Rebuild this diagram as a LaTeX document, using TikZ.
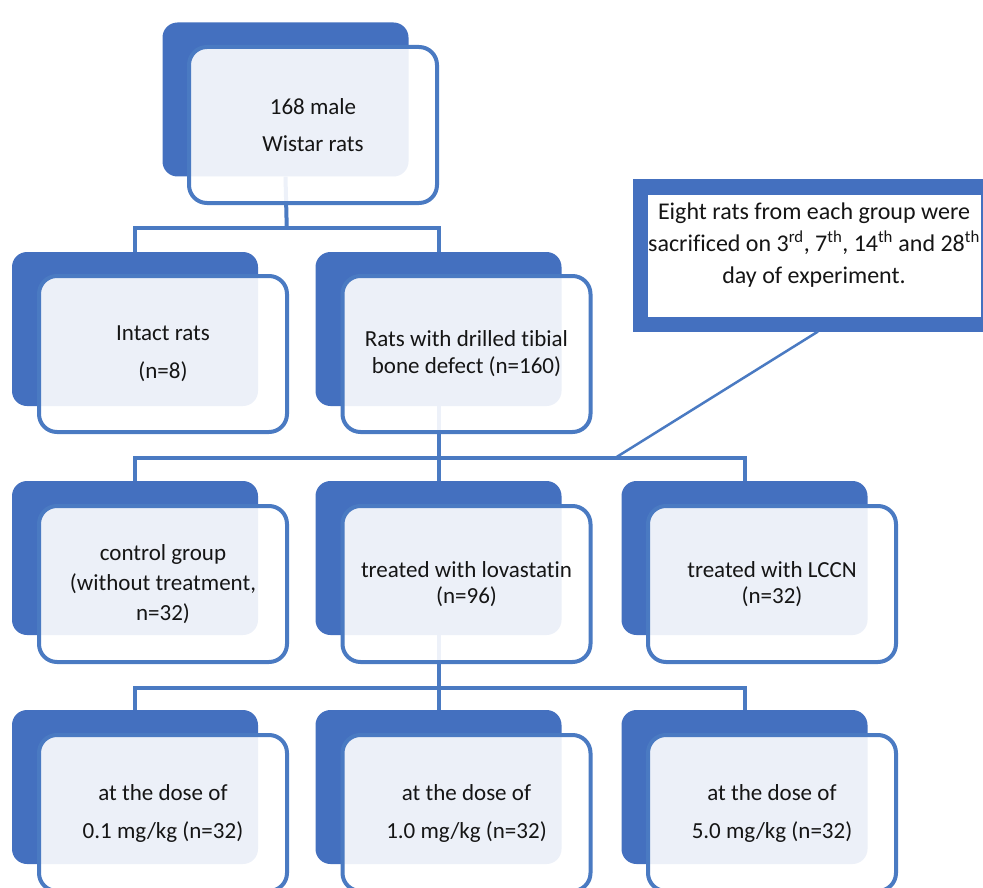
\documentclass[tikz,border=0pt]{standalone}
\usepackage{fontspec}
\setmainfont[Ligatures={NoCommon,NoRare,NoContextual}]{Carlito}
\usetikzlibrary{calc}
\definecolor{backblue}{HTML}{4470BF}
\definecolor{lineblue}{HTML}{4A7AC2}
\definecolor{txt}{HTML}{151515}
\begin{document}
\begin{tikzpicture}[x=1pt,y=-1pt,
  backbox/.style={rectangle, rounded corners=15pt, fill=backblue, minimum width=246pt, minimum height=154pt, inner sep=0pt},
  frontbox/.style={rectangle, rounded corners=18pt, draw=lineblue, line width=4pt, fill=white, fill opacity=0.9, text opacity=1, minimum width=248pt, minimum height=156pt, align=center, text=txt, inner sep=2pt, font=\fontsize{23}{38}\selectfont},
  tight/.style={font=\fontsize{23}{27}\selectfont},
  conn/.style={draw=lineblue, line width=4pt},
]
\useasboundingbox (0,0) rectangle (983,888);
\clip (0,0) rectangle (983,888);
% back boxes
\node[backbox] (b0) at (285.5,99.5) {};
\node[backbox] (b11) at (135,329) {};
\node[backbox] (b12) at (438.5,329) {};
\node[backbox] (b21) at (135,558) {};
\node[backbox] (b22) at (438.5,558) {};
\node[backbox] (b23) at (744.5,558) {};
\node[backbox] (b31) at (135,787) {};
\node[backbox] (b32) at (438.5,787) {};
\node[backbox] (b33) at (744.5,787) {};
% connectors
\coordinate (bus1) at (286.75,228);
\coordinate (bus2) at (438.5,458);
\coordinate (bus3) at (438.5,688);
\draw[conn] (b0.south) -- (bus1);
\draw[conn] (b11.north) |- (bus1) -| (b12.north);
\draw[conn] (b12.south) -- (bus2);
\draw[conn] (b21.north) |- (bus2) -| (b23.north);
\draw[conn] (bus2) -- (b22.north);
\draw[conn] (b22.south) -- (bus3);
\draw[conn] (b31.north) |- (bus3) -| (b33.north);
\draw[conn] (bus3) -- (b32.north);
% front boxes
\node[frontbox, font=\fontsize{23}{37}\selectfont] (f0) at (313,125) {168 male\\Wistar rats};
\node[frontbox] (f11) at (163,354) {Intact rats\\(n=8)};
\node[frontbox, tight] (f12) at (466.5,354) {Rats with drilled t{}ibial\\bone defect (n=160)};
\node[frontbox, font=\fontsize{23}{30}\selectfont] (f21) at (163,584) {control group\\(without treatment,\\n=32)};
\node[frontbox, font=\fontsize{23}{26}\selectfont] (f22) at (466.5,584) {treated with lovastat{}in\\(n=96)};
\node[frontbox, font=\fontsize{23}{26}\selectfont] (f23) at (772,584) {treated with LCCN\\(n=32)};
\node[frontbox] (f31) at (163,813) {at the dose of\\0.1 mg/kg (n=32)};
\node[frontbox] (f32) at (466.5,813) {at the dose of\\1.0 mg/kg (n=32)};
\node[frontbox] (f33) at (772,813) {at the dose of\\5.0 mg/kg (n=32)};
% callout
\node[draw=backblue, line width=15pt, fill=white, minimum width=348pt, minimum height=137pt, inner sep=0pt] (note) at (814,255.5) {};
\node[align=center, text=txt, font=\fontsize{24}{32}\selectfont] (notetext) at (814,245) {Eight rats from each group were\\sacrificed on 3\textsuperscript{rd}, 7\textsuperscript{th}, 14\textsuperscript{th} and 28\textsuperscript{th}\\day of experiment.};
\coordinate (cl) at (615,458);
\draw[lineblue, line width=2.5pt] ([xshift=4pt]note.south) -- (cl);
\end{tikzpicture}
\end{document}
